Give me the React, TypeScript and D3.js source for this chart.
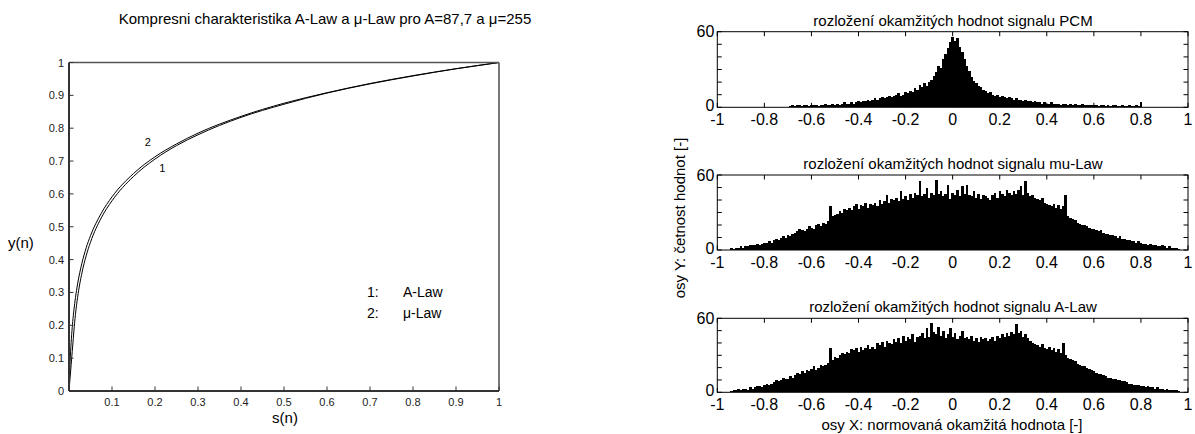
import React from "react";
import * as d3 from "d3";

// ---------- Data ----------
// compression characteristic samples (s(n) -> y(n))
const S_VALUES = [0, 0.0025, 0.005, 0.01, 0.0114, 0.015, 0.02, 0.03, 0.04, 0.05, 0.075, 0.1, 0.15, 0.2, 0.25, 0.3, 0.4, 0.5, 0.6, 0.7, 0.8, 0.9, 1];
const A_LAW_Y = [0, 0.040, 0.080, 0.160, 0.183, 0.233, 0.285, 0.359, 0.412, 0.453, 0.527, 0.579, 0.653, 0.706, 0.747, 0.780, 0.833, 0.873, 0.907, 0.935, 0.959, 0.981, 1];
const MU_LAW_Y = [0, 0.089, 0.148, 0.229, 0.246, 0.284, 0.326, 0.389, 0.436, 0.473, 0.541, 0.591, 0.662, 0.713, 0.752, 0.785, 0.836, 0.876, 0.908, 0.936, 0.960, 0.981, 1];
const Y_TICKS_LEFT = [0, 0.1, 0.2, 0.3, 0.4, 0.5, 0.6, 0.7, 0.8, 0.9, 1];
const X_TICKS_LEFT = [0.1, 0.2, 0.3, 0.4, 0.5, 0.6, 0.7, 0.8, 0.9, 1];

// histograms: bin width 0.01, counts from the first bin centre
const BIN_WIDTH = 0.01;
const PCM_START = -0.69;
const PCM_COUNTS = [
  1, 2, 1, 2, 2, 1, 2, 2, 1, 2,
  2, 2, 1, 2, 2, 3, 2, 2, 3, 2,
  3, 2, 3, 4, 3, 3, 4, 3, 4, 5,
  4, 5, 5, 6, 5, 6, 7, 6, 7, 8,
  7, 8, 9, 8, 9, 10, 11, 9, 10, 12,
  11, 13, 12, 15, 14, 18, 16, 19, 17, 20,
  22, 25, 28, 33, 31, 38, 42, 47, 52, 56,
  53, 55, 48, 44, 38, 33, 29, 24, 21, 19,
  17, 16, 14, 13, 11, 12, 10, 9, 10, 8,
  9, 8, 7, 8, 7, 6, 7, 6, 6, 5,
  6, 5, 5, 4, 5, 4, 4, 3, 4, 3,
  3, 4, 3, 3, 3, 2, 3, 3, 2, 3,
  2, 3, 2, 2, 3, 2, 2, 2, 2, 2,
  2, 1, 2, 2, 1, 2, 1, 2, 2, 1,
  1, 2, 1, 1, 2, 1, 1, 2, 1, 4,
];
const MU_START = -0.94;
const MU_COUNTS = [
  2, 1, 2, 2, 3, 2, 3, 3, 4, 4,
  4, 5, 4, 5, 6, 6, 7, 6, 8, 9,
  8, 10, 11, 10, 12, 11, 13, 14, 15, 17,
  16, 15, 17, 19, 18, 17, 20, 21, 19, 22,
  21, 23, 35, 27, 28, 29, 31, 30, 33, 32,
  34, 32, 35, 37, 33, 36, 35, 38, 34, 37,
  36, 38, 35, 40, 37, 39, 44, 38, 41, 40,
  42, 39, 47, 41, 43, 40, 45, 42, 46, 44,
  55, 43, 45, 50, 42, 46, 44, 56, 45, 47,
  43, 45, 52, 41, 46, 44, 48, 43, 51, 45,
  52, 44, 43, 47, 42, 45, 41, 44, 43, 42,
  40, 44, 46, 42, 47, 45, 43, 48, 46, 44,
  47, 45, 48, 51, 44, 55, 46, 43, 44, 42,
  41, 40, 42, 38, 37, 36, 35, 37, 34, 36,
  33, 35, 44, 27, 26, 25, 24, 22, 21, 20,
  20, 19, 18, 17, 17, 16, 15, 16, 14, 13,
  13, 12, 12, 11, 10, 11, 9, 9, 8, 8,
  7, 7, 6, 7, 6, 5, 5, 4, 5, 4,
  4, 3, 3, 4, 3, 2, 3, 2, 2, 2,
  1,
];
const A_START = -0.94;
const A_COUNTS = [
  1, 2, 2, 3, 2, 3, 3, 2, 4, 3,
  4, 5, 5, 4, 6, 7, 6, 7, 8, 10,
  9, 10, 12, 11, 11, 13, 12, 14, 16, 15,
  17, 16, 18, 17, 19, 21, 18, 20, 22, 21,
  22, 24, 36, 26, 29, 28, 30, 32, 31, 33,
  32, 35, 34, 36, 33, 37, 34, 36, 38, 35,
  37, 35, 40, 38, 41, 37, 42, 40, 39, 43,
  41, 44, 40, 46, 42, 45, 43, 47, 41, 45,
  46, 48, 44, 52, 45, 56, 49, 47, 53, 46,
  50, 44, 47, 52, 45, 48, 43, 46, 50, 44,
  45, 43, 46, 42, 44, 41, 45, 43, 44, 42,
  43, 45, 42, 46, 44, 47, 45, 48, 46, 49,
  47, 55, 48, 50, 45, 47, 44, 42, 40, 39,
  38, 37, 39, 36, 35, 37, 34, 36, 33, 35,
  32, 40, 30, 28, 27, 26, 25, 23, 22, 21,
  21, 20, 19, 18, 17, 16, 15, 15, 14, 13,
  12, 12, 11, 11, 10, 10, 9, 9, 8, 7,
  7, 6, 6, 6, 5, 5, 4, 5, 4, 4,
  3, 4, 3, 3, 2, 3, 2, 2, 2, 2,
  1,
];
const HIST_X_TICKS = [-1, -0.8, -0.6, -0.4, -0.2, 0, 0.2, 0.4, 0.6, 0.8, 1];
const HIST_Y_TICKS = [0, 10, 20, 30, 40, 50, 60];
const HIST_Y_LABELS = [0, 60];
const HIST_TITLES = [
  "rozložení okamžitých hodnot signalu PCM",
  "rozložení okamžitých hodnot signalu mu-Law",
  "rozložení okamžitých hodnot signalu A-Law",
];

const FONT = "Arial, 'Liberation Sans', Helvetica, sans-serif";

function fmt(v: number) {
  return String(Math.round(v * 10) / 10);
}

function Histogram({ top, bottom, start, counts, title }: { top: number; bottom: number; start: number; counts: number[]; title: string }) {
  const left = 717.3;
  const right = 1188;
  const x = d3.scaleLinear().domain([-1, 1]).range([left, right]);
  const y = d3.scaleLinear().domain([0, 60]).range([bottom, top]);
  return (
    <g>
      <g shapeRendering="crispEdges">
        {counts.map((c, i) => {
          const centre = start + i * BIN_WIDTH;
          const x0 = x(centre - BIN_WIDTH / 2);
          const x1 = x(centre + BIN_WIDTH / 2);
          return <rect key={i} x={x0} y={y(c)} width={x1 - x0 + 0.3} height={y(0) - y(c)} fill="#000" />;
        })}
      </g>
      <rect x={left} y={top} width={right - left} height={bottom - top} fill="none" stroke="#000" strokeWidth={1} />
      {HIST_X_TICKS.map((t) => (
        <g key={t}>
          <line x1={x(t)} x2={x(t)} y1={bottom} y2={bottom - 4.5} stroke="#000" />
          <line x1={x(t)} x2={x(t)} y1={top} y2={top + 4.5} stroke="#000" />
          <text x={x(t)} y={bottom + 17.5} textAnchor="middle" fontSize={16} fontFamily={FONT}>{fmt(t)}</text>
        </g>
      ))}
      {HIST_Y_TICKS.map((t) => (
        <g key={t}>
          <line x1={left} x2={left + 4.5} y1={y(t)} y2={y(t)} stroke="#000" />
          <line x1={right} x2={right - 4.5} y1={y(t)} y2={y(t)} stroke="#000" />
        </g>
      ))}
      {HIST_Y_LABELS.map((t) => (
        <text key={t} x={left - 3} y={y(t) + (t === 0 ? 3.5 : 5.5)} textAnchor="end" fontSize={16} fontFamily={FONT}>{t}</text>
      ))}
      <text x={953} y={top - 6} textAnchor="middle" fontSize={15} fontFamily={FONT}>{title}</text>
    </g>
  );
}

export default function App() {
  const xL = d3.scaleLinear().domain([0, 1]).range([69, 499]);
  const yL = d3.scaleLinear().domain([0, 1]).range([391, 62.5]);
  const line = d3
    .line<number>()
    .x((_, i) => xL(S_VALUES[i]))
    .y((v) => yL(v))
    .curve(d3.curveMonotoneX);

  const panels = [
    { top: 31.7, bottom: 107.3, start: PCM_START, counts: PCM_COUNTS },
    { top: 175, bottom: 250, start: MU_START, counts: MU_COUNTS },
    { top: 318.3, bottom: 392.3, start: A_START, counts: A_COUNTS },
  ];

  return (
    <svg width={1195} height={434} style={{ position: "absolute", left: 0, top: 0, background: "#fff" }}>
      <rect width={1195} height={434} fill="#fff" />
      {/* Left chart */}
      <text x={325} y={24} textAnchor="middle" fontSize={15} fontFamily={FONT}>Kompresni charakteristika A-Law a μ-Law pro A=87,7 a μ=255</text>
      <path d={line(A_LAW_Y) || ""} fill="none" stroke="#000" strokeWidth={1} />
      <path d={line(MU_LAW_Y) || ""} fill="none" stroke="#000" strokeWidth={1} />
      <line x1={xL(0)} x2={xL(1)} y1={yL(1)} y2={yL(1)} stroke="#555" strokeWidth={1.6} />
      <line x1={xL(1)} x2={xL(1)} y1={yL(1)} y2={yL(0)} stroke="#555" strokeWidth={1.6} />
      <line x1={xL(0)} x2={xL(1)} y1={yL(0)} y2={yL(0)} stroke="#333" strokeWidth={2} />
      <line x1={xL(0)} x2={xL(0)} y1={yL(1)} y2={yL(0)} stroke="#333" strokeWidth={2} />
      {Y_TICKS_LEFT.map((t) => (
        <g key={t}>
          <line x1={xL(0)} x2={xL(0) + 4.5} y1={yL(t)} y2={yL(t)} stroke="#333" />
          <text x={xL(0) - 5} y={yL(t) + 4} textAnchor="end" fontSize={11} fontFamily={FONT} fill="#222">{fmt(t)}</text>
        </g>
      ))}
      {X_TICKS_LEFT.map((t) => (
        <g key={t}>
          <line x1={xL(t)} x2={xL(t)} y1={yL(0)} y2={yL(0) - 4.5} stroke="#333" />
          <text x={xL(t)} y={yL(0) + 15} textAnchor="middle" fontSize={11} fontFamily={FONT} fill="#222">{fmt(t)}</text>
        </g>
      ))}
      <text x={8} y={248} fontSize={15} fontFamily={FONT}>y(n)</text>
      <text x={285} y={423} textAnchor="middle" fontSize={15} fontFamily={FONT}>s(n)</text>
      <text x={147.7} y={146} textAnchor="middle" fontSize={11} fontFamily={FONT}>2</text>
      <text x={162.3} y={172} textAnchor="middle" fontSize={11} fontFamily={FONT}>1</text>
      <text x={367} y={297} fontSize={14} fontFamily={FONT}>1:</text>
      <text x={403} y={297} fontSize={14} fontFamily={FONT}>A-Law</text>
      <text x={367} y={318} fontSize={14} fontFamily={FONT}>2:</text>
      <text x={403} y={318} fontSize={14} fontFamily={FONT}>μ-Law</text>

      {/* Right histograms */}
      {panels.map((p, i) => (
        <Histogram key={i} top={p.top} bottom={p.bottom} start={p.start} counts={p.counts} title={HIST_TITLES[i]} />
      ))}
      <text transform="translate(685,218) rotate(-90)" textAnchor="middle" fontSize={15} fontFamily={FONT}>osy Y: četnost hodnot [-]</text>
      <text x={952} y={430} textAnchor="middle" fontSize={15} fontFamily={FONT}>osy X: normovaná okamžitá hodnota [-]</text>
    </svg>
  );
}
